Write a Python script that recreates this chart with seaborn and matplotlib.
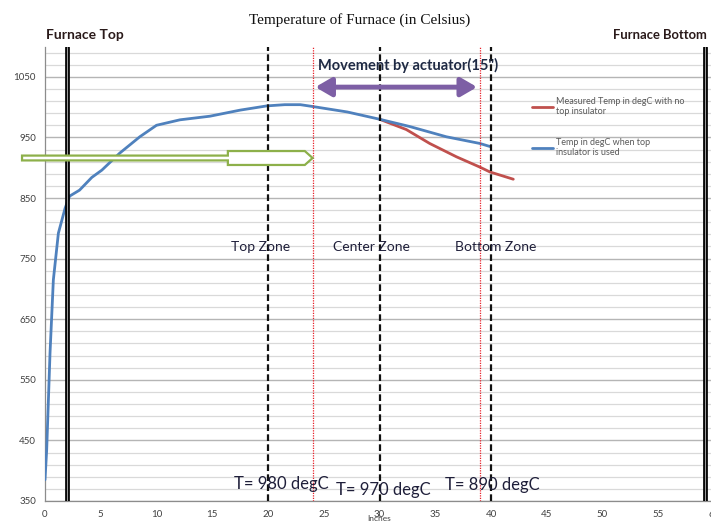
import numpy as np
import pandas as pd
import matplotlib
matplotlib.use("Agg")
import matplotlib.pyplot as plt
from matplotlib.patches import Polygon, FancyArrowPatch
from matplotlib.lines import Line2D
import seaborn as sns

# ---- data ----
pos_insulated = [0, 0.15, 0.45, 0.75, 1.2, 1.8, 2.2, 3.1, 4.2, 5.1, 6.7, 8.5, 10.0,
                 12.1, 14.8, 17.5, 19.9, 21.5, 22.9, 24.0, 27.1, 30.0, 32.7, 36.0, 39.0, 39.9]
temp_insulated = [385, 434, 594, 715, 792, 833, 853, 863, 884, 896, 924, 951, 970,
                  979, 985, 995, 1002, 1004, 1004, 1001, 992, 980, 968, 951, 940, 935]
pos_no_insul = [30.0, 32.4, 34.5, 36.9, 39.0, 39.9, 42.0]
temp_no_insul = [980, 963, 940, 918, 901, 893, 881]

label_no_insul = "Measured Temp in degC with no\ntop insulator"
label_insul = "Temp in degC when top\ninsulator is used"

furnace_walls = [2.0, 59.2]
zone_lines = [20, 30, 40]
actuator_lines = [24, 39]
zone_names = ["Top Zone", "Center Zone", "Bottom Zone"]
zone_name_x = [19.3, 29.3, 40.4]
zone_temps = ["T= 980 degC", "T= 970 degC", "T= 890 degC"]
zone_temp_x = [21.2, 30.3, 40.1]
zone_temp_y = [378, 368, 376]

x_ticks = list(range(0, 61, 5))
y_ticks = list(range(350, 1051, 100))

df = pd.concat([
    pd.DataFrame({"Inches": pos_no_insul, "Temp": temp_no_insul, "Series": label_no_insul}),
    pd.DataFrame({"Inches": pos_insulated, "Temp": temp_insulated, "Series": label_insul}),
])

sns.set_style("white")
plt.rcParams["font.family"] = ["Lato", "DejaVu Sans"]

fig = plt.figure(figsize=(7.11, 5.22), dpi=100)
ax = fig.add_axes([45 / 711, 21 / 522, (714 - 45) / 711, (501 - 46.5) / 522])

ax.set_xlim(0, 60)
ax.set_ylim(350, 1100)

# grid
ax.set_yticks(y_ticks)
ax.set_yticks(np.arange(350, 1100, 20), minor=True)
ax.grid(which="minor", axis="y", color="#d9d9d9", lw=0.9)
ax.grid(which="major", axis="y", color="#b5b5b5", lw=1.0)
ax.set_axisbelow(True)

palette = {label_no_insul: "#c0504d", label_insul: "#4f81bd"}
sns.lineplot(data=df, x="Inches", y="Temp", hue="Series", palette=palette,
             hue_order=[label_no_insul, label_insul], lw=2.0, ax=ax, sort=False,
             legend=False, zorder=5)

# vertical lines
for xv in furnace_walls:
    ax.axvline(xv, color="black", lw=3.4, zorder=6)
    ax.axvline(xv, color="#9a9a9a", lw=0.8, zorder=7)
for xv in zone_lines:
    ax.axvline(xv, color="#111111", lw=1.6, ls=(0, (3, 1.5)), zorder=6)
for xv in actuator_lines:
    ax.axvline(xv, color="#e8202a", lw=0.9, ls=(0, (1, 1)), zorder=6)

# actuator arrow
arr = FancyArrowPatch((actuator_lines[0], 1033), (actuator_lines[1], 1033),
                      arrowstyle="<|-|>,head_length=6,head_width=3.5",
                      color="#7d5fa5", lw=3.5, mutation_scale=1.6, zorder=8)
ax.add_patch(arr)
ax.text(32.6, 1068, "Movement by actuator(15\")", ha="center", va="center",
        fontsize=10.5, fontweight="bold", color="#1f2a44", zorder=9)

# green hollow arrow
shaft_h, block_h = 4, 11.5
yc = 916
pts = [(-2.06, yc - shaft_h), (16.4, yc - shaft_h), (16.4, yc - block_h), (23.3, yc - block_h),
       (24.0, yc), (23.3, yc + block_h), (16.4, yc + block_h), (16.4, yc + shaft_h),
       (-2.06, yc + shaft_h)]
ax.add_patch(Polygon(pts, closed=True, facecolor="white", edgecolor="#8db04a",
                     lw=1.6, zorder=9, clip_on=False))

# zone labels
for name, xv in zip(zone_names, zone_name_x):
    ax.text(xv, 769, name, ha="center", va="center", fontsize=10, color="#1f1f3a", zorder=9)
for t, xv, yv in zip(zone_temps, zone_temp_x, zone_temp_y):
    ax.text(xv, yv, t, ha="center", va="center", fontsize=12, color="#1f1f3a", zorder=9)

# axes styling
ax.set_xticks(x_ticks)
ax.tick_params(axis="both", which="major", labelsize=7, colors="#404040", length=3,
               direction="out", width=0.8)
ax.tick_params(axis="y", which="minor", length=0)
for s in ["top", "right"]:
    ax.spines[s].set_visible(False)
for s in ["left", "bottom"]:
    ax.spines[s].set_color("#8c8c8c")
    ax.spines[s].set_linewidth(0.9)
ax.set_xlabel("Inches", fontsize=6, color="#404040", labelpad=-3)
ax.set_ylabel("")

# legend
handles = [Line2D([], [], color=palette[label_no_insul], lw=2),
           Line2D([], [], color=palette[label_insul], lw=2)]
leg = ax.legend(handles, [label_no_insul, label_insul], loc="upper left",
                bbox_to_anchor=(532 / 711, 1 - 97 / 522), bbox_transform=fig.transFigure,
                frameon=False, fontsize=6.5, handlelength=2.3, handletextpad=0.35,
                labelspacing=2.4, borderpad=0, borderaxespad=0)
for t in leg.get_texts():
    t.set_color("#595959")

# titles / headers
fig.text(360 / 711, 1 - 20 / 522, "Temperature of Furnace (in Celsius)", ha="center",
         va="center", fontsize=11, family="Liberation Serif", color="#111111")
fig.text(46 / 711, 1 - 35 / 522, "Furnace Top", ha="left", va="center", fontsize=10,
         fontweight="bold", color="#2a1a1a")
fig.text(613 / 711, 1 - 35 / 522, "Furnace Bottom", ha="left", va="center", fontsize=9.4,
         fontweight="bold", color="#2a1a1a")

fig.savefig("out.png", dpi=100)
